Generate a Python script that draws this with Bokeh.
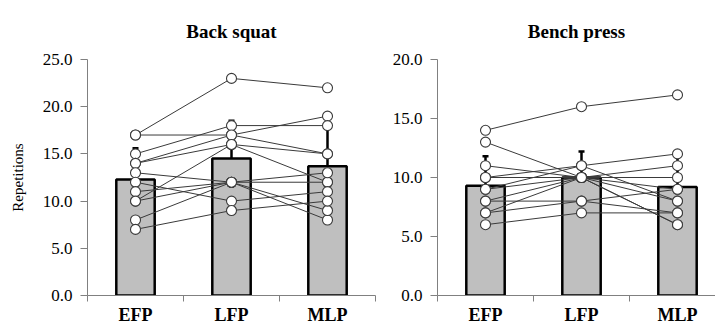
from bokeh.plotting import figure
from bokeh.layouts import row
from bokeh.models import Range1d, FixedTicker, PrintfTickFormatter
from bokeh.embed import file_html
from bokeh.resources import INLINE

# ---------------- data ----------------
categories = ["EFP", "LFP", "MLP"]

# Back squat: individual repetitions per subject
squat_efp = [17, 17, 15, 14, 14, 10, 13, 12, 11, 10, 8, 7]
squat_lfp = [23, 17, 18, 17, 16, 16, 12, 10, 12, 12, 12, 9]
squat_mlp = [22, 19, 18, 15, 12, 15, 12, 11, 8, 9, 13, 10]
squat_mean = [12.3, 14.5, 13.7]
squat_sd = [3.3, 4.0, 4.3]

# Bench press: individual repetitions per subject
bench_efp = [14, 13, 11, 10, 10, 9, 9, 8, 8, 7, 7, 6]
bench_lfp = [16, 10, 10, 11, 10, 11, 10, 8, 10, 10, 8, 7]
bench_mlp = [17, 6, 9, 12, 11, 8, 10, 9, 8, 6, 7, 7]
bench_mean = [9.3, 10.0, 9.2]
bench_sd = [2.5, 2.2, 2.7]

squat_yticks = [0, 5, 10, 15, 20, 25]
bench_yticks = [0, 5, 10, 15, 20]

SERIF = "Liberation Serif"


def panel(title, efp, lfp, mlp, means, sds, yticks, ylabel, frame_w, xend,
          mbl, mbr, title_offset):
    p = figure(frame_width=frame_w, frame_height=236,
               x_range=Range1d(0, xend), y_range=Range1d(yticks[0], yticks[-1]),
               output_backend="svg", toolbar_location=None,
               min_border_left=mbl, min_border_right=mbr,
               min_border_top=59, min_border_bottom=28)
    p.outline_line_color = None
    p.xgrid.visible = False
    p.ygrid.visible = False
    p.background_fill_color = "white"

    p.title.text = title
    p.title.align = "center"
    p.title.text_font = SERIF
    p.title.text_font_style = "bold"
    p.title.text_font_size = "19px"
    p.title.text_color = "black"
    p.title.offset = title_offset
    p.title.standoff = 35

    centers = [i + 0.5 for i in range(len(categories))]

    # bars
    p.vbar(x=centers, top=means, bottom=0, width=0.4,
           fill_color="#bfbfbf", line_color="black", line_width=2.5)

    # error bars (upward)
    tops = [m + s for m, s in zip(means, sds)]
    p.segment(x0=centers, y0=means, x1=centers, y1=tops,
              line_color="black", line_width=2.5)
    p.scatter(x=centers, y=tops, marker="dash", size=6,
              line_color="black", line_width=2.5)

    # individual subject lines
    xs = [centers for _ in efp]
    ys = [[a, b, c] for a, b, c in zip(efp, lfp, mlp)]
    p.multi_line(xs=xs, ys=ys, line_color="#3a3a3a", line_width=1)

    # individual points
    px = [centers[0]] * len(efp) + [centers[1]] * len(lfp) + [centers[2]] * len(mlp)
    py = list(efp) + list(lfp) + list(mlp)
    p.scatter(x=px, y=py, size=10, fill_color="white",
              line_color="#3a3a3a", line_width=1.1)

    # y axis
    ya = p.yaxis[0]
    ya.ticker = FixedTicker(ticks=yticks)
    ya.formatter = PrintfTickFormatter(format="%.1f")
    ya.axis_line_color = "#808080"
    ya.major_tick_line_color = "#808080"
    ya.major_tick_out = 7
    ya.major_tick_in = 0
    ya.minor_tick_line_color = None
    ya.major_label_text_font = SERIF
    ya.major_label_text_font_size = "17px"
    ya.major_label_text_color = "black"
    ya.major_label_standoff = 8
    if ylabel:
        ya.axis_label = ylabel
        ya.axis_label_text_font = SERIF
        ya.axis_label_text_font_style = "normal"
        ya.axis_label_text_font_size = "15px"
        ya.axis_label_text_color = "black"
        ya.axis_label_standoff = 14

    # x axis
    xa = p.xaxis[0]
    xa.ticker = FixedTicker(ticks=centers, minor_ticks=[0, 1, 2, 3])
    xa.major_label_overrides = {c: lab for c, lab in zip(centers, categories)}
    xa.axis_line_color = "#808080"
    xa.major_tick_line_color = None
    xa.major_tick_out = 0
    xa.major_tick_in = 0
    xa.minor_tick_line_color = "#808080"
    xa.minor_tick_out = 6
    xa.minor_tick_in = 0
    xa.major_label_text_font = SERIF
    xa.major_label_text_font_style = "bold"
    xa.major_label_text_font_size = "18px"
    xa.major_label_text_color = "black"
    xa.major_label_standoff = 3
    return p


p1 = panel("Back squat", squat_efp, squat_lfp, squat_mlp, squat_mean, squat_sd,
           squat_yticks, "Repetitions", 288, 3.0, 87, 5, 0)
p2 = panel("Bench press", bench_efp, bench_lfp, bench_mlp, bench_mean, bench_sd,
           bench_yticks, None, 278, 278 / 96, 57, 0, 8)

layout = row(p1, p2, spacing=0)

open("out.html", "w").write(file_html(layout, INLINE))
